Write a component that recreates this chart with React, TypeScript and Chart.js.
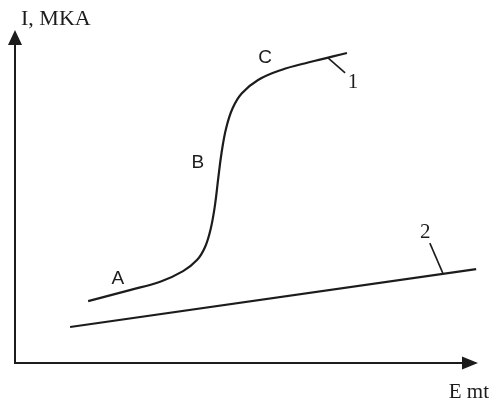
import React, { useEffect, useRef } from "react";
import { Chart, registerables } from "chart.js";

Chart.register(...registerables);

// Curve 1: current rises steeply between A and C
const curve1X = [15.8, 24.8, 31.5, 36.3, 39.3, 41.1, 42.3, 43.2, 43.9, 44.6, 45.6, 47.0, 49.0, 52.5, 57.5, 63.5, 71.7];
const curve1Y = [18.6, 21.9, 24.5, 27.6, 30.9, 35.0, 40.5, 47.5, 55.5, 63.0, 70.5, 76.5, 81.0, 85.0, 88.0, 90.3, 93.1];

// Curve 2: straight background line
const curve2X = [11.9, 99.6];
const curve2Y = [10.8, 28.2];

// Point labels along curve 1 and curve numbers
const pointLabels = ["A", "B", "C"];
const pointLabelX = [22.2, 39.5, 54.0];
const pointLabelY = [25.2, 60.1, 91.6];

const curveNames = ["1", "2"];
const curveNameX = [73.0, 88.6];
const curveNameY = [84.1, 39.3];
const leaderFromX = [67.6, 92.4];
const leaderFromY = [91.6, 27.0];
const leaderToX = [71.3, 89.6];
const leaderToY = [87.1, 36.0];

const yAxisTitle = "I, MKA";
const xAxisTitle = "E mt";

const INK = "#1c1c1c";

const toPoints = (xs: number[], ys: number[]) => xs.map((x, i) => ({ x, y: ys[i] }));

const decorations = {
  id: "decorations",
  afterDraw(chart: any) {
    const { ctx, chartArea: a, scales } = chart;
    const sx = scales.x;
    const sy = scales.y;
    ctx.save();
    ctx.strokeStyle = INK;
    ctx.fillStyle = INK;
    ctx.lineWidth = 2;
    ctx.lineCap = "butt";

    // axes
    ctx.beginPath();
    ctx.moveTo(a.left, a.top + 10);
    ctx.lineTo(a.left, a.bottom);
    ctx.lineTo(a.right - 10, a.bottom);
    ctx.stroke();

    // arrowheads
    ctx.beginPath();
    ctx.moveTo(a.left, a.top);
    ctx.lineTo(a.left - 7, a.top + 15);
    ctx.lineTo(a.left + 7, a.top + 15);
    ctx.closePath();
    ctx.fill();
    ctx.beginPath();
    ctx.moveTo(a.right, a.bottom);
    ctx.lineTo(a.right - 16, a.bottom - 6.5);
    ctx.lineTo(a.right - 16, a.bottom + 6.5);
    ctx.closePath();
    ctx.fill();

    // axis titles
    ctx.font = "22px 'Liberation Serif'";
    ctx.textBaseline = "middle";
    ctx.textAlign = "left";
    ctx.fillText(yAxisTitle, a.left + 6, a.top - 11);
    ctx.textAlign = "right";
    ctx.font = "21px 'Liberation Serif'";
    ctx.fillText(xAxisTitle, a.right + 11, a.bottom + 29);

    // point labels
    ctx.textAlign = "center";
    ctx.font = "19px 'Liberation Sans'";
    pointLabels.forEach((t, i) => {
      ctx.fillText(t, sx.getPixelForValue(pointLabelX[i]), sy.getPixelForValue(pointLabelY[i]));
    });

    // curve numbers with leader lines
    ctx.font = "21px 'Liberation Serif'";
    ctx.lineWidth = 1.6;
    curveNames.forEach((t, i) => {
      ctx.beginPath();
      ctx.moveTo(sx.getPixelForValue(leaderFromX[i]), sy.getPixelForValue(leaderFromY[i]));
      ctx.lineTo(sx.getPixelForValue(leaderToX[i]), sy.getPixelForValue(leaderToY[i]));
      ctx.stroke();
      ctx.fillText(t, sx.getPixelForValue(curveNameX[i]), sy.getPixelForValue(curveNameY[i]));
    });
    ctx.restore();
  },
};

export default function App() {
  const ref = useRef<HTMLCanvasElement | null>(null);

  useEffect(() => {
    if (!ref.current) return;
    const chart = new Chart(ref.current, {
      type: "scatter",
      data: {
        datasets: [
          {
            label: "1",
            data: toPoints(curve1X, curve1Y),
            showLine: true,
            borderColor: INK,
            borderWidth: 2.2,
            pointRadius: 0,
            tension: 0.4,
          },
          {
            label: "2",
            data: toPoints(curve2X, curve2Y),
            showLine: true,
            borderColor: INK,
            borderWidth: 2.2,
            pointRadius: 0,
          },
        ],
      },
      options: {
        animation: false,
        responsive: false,
        layout: { padding: { left: 15, right: 14, top: 30, bottom: 38 } },
        plugins: { legend: { display: false }, tooltip: { enabled: false } },
        scales: {
          x: { type: "linear", min: 0, max: 100, display: false },
          y: { type: "linear", min: 0, max: 100, display: false },
        },
      },
      plugins: [decorations],
    });
    return () => chart.destroy();
  }, []);

  return (
    <div style={{ position: "fixed", left: 0, top: 0, width: 492, height: 401, background: "#fff" }}>
      <canvas ref={ref} width={492} height={401} style={{ display: "block" }} />
    </div>
  );
}
